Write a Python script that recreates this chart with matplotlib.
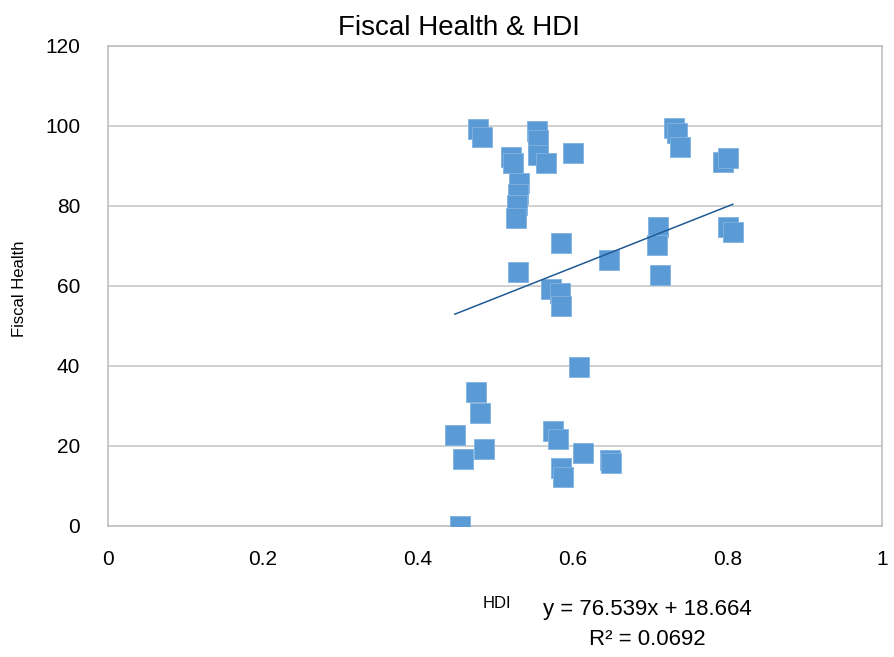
import numpy as np
import matplotlib.pyplot as plt

plt.rcParams['font.family'] = ['Liberation Sans', 'DejaVu Sans']

# HDI vs fiscal health
hdi = [0.478, 0.483, 0.554, 0.556, 0.521, 0.523, 0.556, 0.566, 0.601,
       0.531, 0.530, 0.528, 0.527, 0.585, 0.530, 0.647, 0.572, 0.584,
       0.585, 0.608, 0.475, 0.480, 0.448, 0.575, 0.581, 0.486, 0.458,
       0.614, 0.649, 0.650, 0.585, 0.588, 0.455, 0.731, 0.735, 0.739,
       0.795, 0.801, 0.711, 0.709, 0.713, 0.801, 0.807]
fiscal = [99.3, 97.3, 98.8, 96.5, 92.3, 90.8, 92.8, 90.8, 93.3,
          85.8, 83.0, 80.3, 77.0, 70.8, 63.5, 66.5, 59.3, 58.3,
          55.0, 39.8, 33.5, 28.3, 22.8, 23.8, 21.8, 19.3, 16.8,
          18.3, 16.5, 15.8, 14.5, 12.3, 0.0, 99.5, 98.3, 94.8,
          91.0, 92.0, 74.8, 70.3, 62.8, 74.8, 73.5]

slope = 76.539
intercept = 18.664
r2 = 0.0692

fig = plt.figure(figsize=(8.95, 6.57), dpi=100)
ax = fig.add_axes([0.1207, 0.1994, 0.865, 0.7306])

ax.scatter(hdi, fiscal, marker='s', s=220, color='#5B9BD5',
           edgecolors='#7FB2E0', linewidths=0.6, zorder=3)

xs = np.array([min(hdi), max(hdi)])
ax.plot(xs, slope * xs + intercept, color='#1F5A96', lw=1.1, zorder=4)

ax.set_xlim(0, 1)
ax.set_ylim(0, 120)
ax.set_xticks([0, 0.2, 0.4, 0.6, 0.8, 1])
ax.set_xticklabels(['0', '0.2', '0.4', '0.6', '0.8', '1'])
ax.set_yticks(range(0, 121, 20))
ax.tick_params(length=0, labelsize=15, colors='black')
ax.tick_params(axis='y', pad=20)
ax.tick_params(axis='x', pad=17)
ax.yaxis.grid(True, color='#C8C8C8', lw=1.2)
ax.set_axisbelow(True)
for s in ax.spines.values():
    s.set_color('#BFBFBF')
    s.set_linewidth(1.2)

fig.text(0.513, 0.957, 'Fiscal Health & HDI', ha='center', va='center', fontsize=20)
fig.text(0.022, 0.56, 'Fiscal Health', rotation=90, ha='center', va='center', fontsize=12)
fig.text(0.555, 0.082, 'HDI', ha='center', va='center', fontsize=12)
fig.text(0.723, 0.073, 'y = %.3fx + %.3f' % (slope, intercept),
         ha='center', va='center', fontsize=16)
fig.text(0.723, 0.026, 'R² = %.4f' % r2, ha='center', va='center', fontsize=16)

fig.savefig('out.png', dpi=100)
